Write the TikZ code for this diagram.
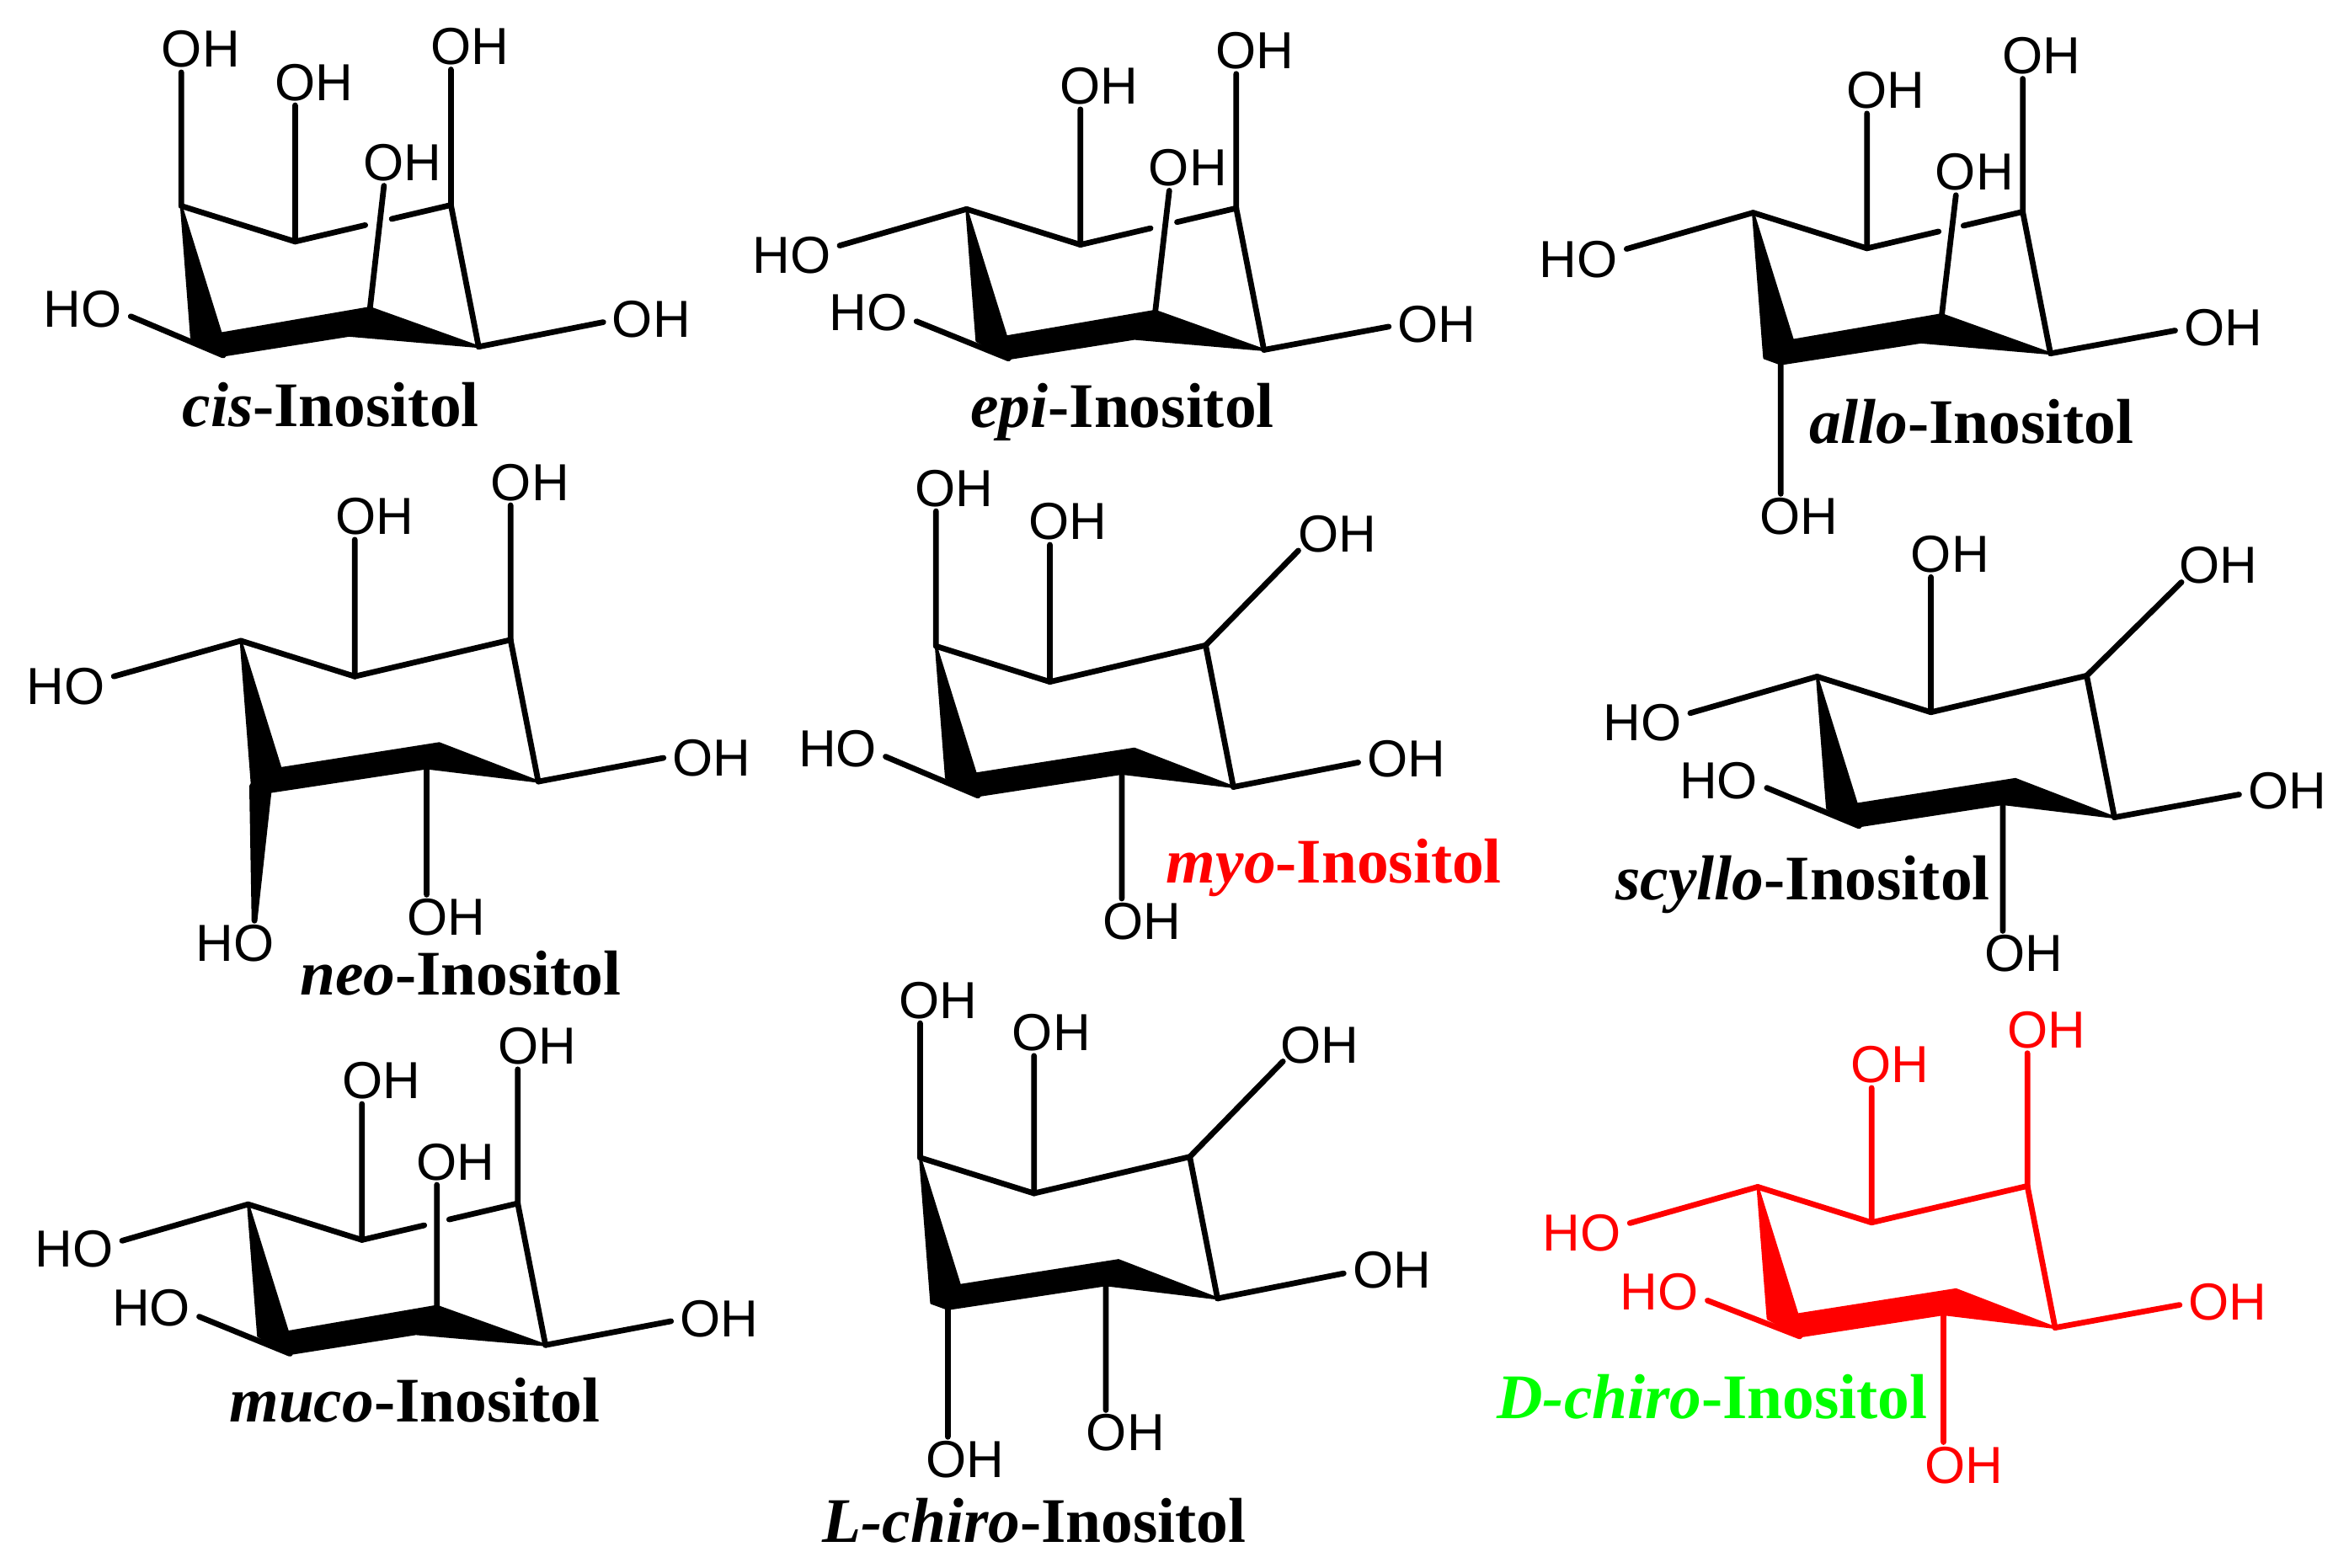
\documentclass[tikz,border=0pt]{standalone}
\usepackage{fontspec}
\setmainfont{Liberation Serif}
\newfontfamily\atomfont{Liberation Sans}
\usetikzlibrary{calc}
\tikzset{
  bond/.style={line width=1.9pt,line cap=round,line join=round},
  band/.style={line width=.8pt,line join=round},
  far/.style={shorten >=-3pt},
  oh/.style={font=\atomfont\fontsize{17.4}{19}\selectfont,inner sep=0pt,inner xsep=1.5pt,outer sep=1.5pt},
  isomer/.style={font=\fontsize{21.2}{24}\selectfont\bfseries,anchor=base,inner sep=0pt}
}
\newcommand{\chair}[4]{
  \begin{scope}[shift={(#2)}]
    \coordinate (#1-a) at (0,0);
    \coordinate (#1-b) at (76,23.8);
    \coordinate (#1-c) at (180,-0.6);
    \coordinate (#1-d) at (198.5,94);
    \coordinate (#1-e) at ({126+6.4*#3},{68+.5*#3});
    \coordinate (#1-g) at ({112+12*#3},{86.5-1.5*#3});
    \coordinate (#1-h) at (26.5,85.2);
    \coordinate (#1-f) at ({28-9.5*#4},{99.8+1.2*#4});
    \coordinate (#1-k) at ({6.8+.7*#4},{88+9*#4});
    \draw[bond] (#1-a) -- (#1-b) (#1-c) -- (#1-d);
    \filldraw[band] (#1-a) -- (#1-k) -- (#1-f) -- (#1-g) -- (#1-d) -- (#1-e) -- (#1-h) -- cycle;
  \end{scope}
}

\begin{document}
\begin{tikzpicture}[x=0.5pt,y=-0.5pt]
    \useasboundingbox (0,0) rectangle (1568,1046.8);

    \chair{cis}{121,137.5}{0}{0}
    \draw[bond] (cis-b) -- ($(cis-b)!.45!(cis-c)$) ($(cis-b)!.62!(cis-c)$) -- (cis-c);
    \node[oh] (cis1) at (134,33) {OH};
    \node[oh] (cis2) at (209.5,55) {OH};
    \node[oh] (cis3) at (268.7,108.7) {OH};
    \node[oh] (cis4) at (313.4,31.1) {OH};
    \node[oh] (cis5) at (434.8,213.4) {OH};
    \node[oh] (cis6) at (55.2,206.7) {HO};
    \draw[bond] (cis-a) -- (cis-a |- cis1.south) (cis-b) -- (cis-b |- cis2.south)
    (cis-e) -- (cis3.231) (cis-c) -- (cis-c |- cis4.south)
    (cis-d) -- (cis5.183) (cis-f) -- (cis6.-8);
    \node[isomer] (cisname) at (220.8,285) {\textit{cis}-Inositol};

    \chair{epi}{645.2,139.6}{0}{0}
    \draw[bond] (epi-b) -- ($(epi-b)!.45!(epi-c)$) ($(epi-b)!.62!(epi-c)$) -- (epi-c);
    \node[oh] (epi1) at (528.4,170.2) {HO};
    \node[oh] (epi2) at (733.8,57.7) {OH};
    \node[oh] (epi3) at (792.9,112) {OH};
    \node[oh] (epi4) at (837.8,34) {OH};
    \node[oh] (epi5) at (959.1,216.4) {OH};
    \node[oh] (epi6) at (579.7,208.9) {HO};
    \draw[bond] (epi-a) -- (epi1.11) (epi-b) -- (epi-b |- epi2.south)
    (epi-e) -- (epi3.231) (epi-c) -- (epi-c |- epi4.south)
    (epi-d) -- (epi5.183) (epi-f) -- (epi6.-10);
    \node[isomer] (epiname) at (749.2,285.5) {\textit{epi}-Inositol};

    \chair{allo}{1170.2,142}{0}{1}
    \draw[bond] (allo-b) -- ($(allo-b)!.46!(allo-c)$) ($(allo-b)!.62!(allo-c)$) -- (allo-c);
    \node[oh] (allo1) at (1053.7,173) {HO};
    \node[oh] (allo2) at (1258.8,60.5) {OH};
    \node[oh] (allo3) at (1318,115) {OH};
    \node[oh] (allo4) at (1362.7,37.3) {OH};
    \node[oh] (allo5) at (1484,219) {OH};
    \node[oh] (allo6) at (1200.8,345) {OH};
    \draw[bond] (allo-a) -- (allo1.12) (allo-b) -- (allo-b |- allo2.south)
    (allo-e) -- (allo3.231) (allo-c) -- (allo-c |- allo4.south)
    (allo-d) -- (allo5.183) (allo-f) -- (allo-f |- allo6.north);
    \node[isomer] (alloname) at (1316,295.8) {\textit{allo}-Inositol};

    \chair{neo}{160.8,427.8}{1}{1}
    \draw[bond] (neo-b) -- (neo-c);
    \node[oh] (neo1) at (43.9,458.4) {HO};
    \node[oh] (neo2) at (250,345) {OH};
    \node[oh] (neo3) at (353.8,322) {OH};
    \node[oh] (neo4) at (475,506) {OH};
    \node[oh] (neo5) at (157,630) {HO};
    \node[oh] (neo6) at (298,612.6) {OH};
    \draw[bond] (neo-a) -- (neo1.12) (neo-b) -- (neo-b |- neo2.south)
    (neo-c) -- (neo-c |- neo3.south) (neo-d) -- (neo4.180)
    (neo-g) -- (neo-g |- neo6.north);
    \filldraw[bond] (neo-k) -- (neo-f) -- (neo5.50) -- cycle;
    \node[isomer] (neoname) at (307.5,664.5) {\textit{neo}-Inositol};

    \chair{myo}{624.8,431.4}{1}{0}
    \draw[bond] (myo-b) -- (myo-c);
    \node[oh] (myo1) at (636.9,326) {OH};
    \node[oh] (myo2) at (712.8,348.4) {OH};
    \node[oh] (myo3) at (892.5,356.6) {OH};
    \node[oh] (myo4) at (938.7,506.8) {OH};
    \node[oh] (myo5) at (762.3,615.2) {OH};
    \node[oh] (myo6) at (559.1,500.1) {HO};
    \draw[bond] (myo-a) -- (myo-a |- myo1.south) (myo-b) -- (myo-b |- myo2.south)
    (myo-d) -- (myo4.184) (myo-g) -- (myo-g |- myo5.north) (myo-f) -- (myo6.-9);
    \draw[bond,far] (myo-c) -- (myo3.207);
    \node[isomer,text=red] (myoname) at (890.5,589.7) {\textit{myo}-Inositol};

    \chair{scyllo}{1212.9,451.7}{1}{0}
    \draw[bond] (scyllo-b) -- (scyllo-c);
    \node[oh] (scyllo1) at (1096.2,482.3) {HO};
    \node[oh] (scyllo2) at (1301.7,370) {OH};
    \node[oh] (scyllo3) at (1480.7,377.6) {OH};
    \node[oh] (scyllo4) at (1526.7,528.2) {OH};
    \node[oh] (scyllo5) at (1350.7,636.8) {OH};
    \node[oh] (scyllo6) at (1147.3,521.5) {HO};
    \draw[bond] (scyllo-a) -- (scyllo1.11) (scyllo-b) -- (scyllo-b |- scyllo2.south)
    (scyllo-d) -- (scyllo4.184) (scyllo-g) -- (scyllo-g |- scyllo5.north)
    (scyllo-f) -- (scyllo6.-8);
    \draw[bond,far] (scyllo-c) -- (scyllo3.208);
    \node[isomer] (scylloname) at (1203.5,600.8) {\textit{scyllo}-Inositol};

    \chair{muco}{165.6,804}{0}{0}
    \draw[bond] (muco-b) -- ($(muco-b)!.40!(muco-c)$) ($(muco-b)!.56!(muco-c)$) -- (muco-c);
    \node[oh] (muco1) at (49.4,834) {HO};
    \node[oh] (muco2) at (254.7,721.7) {OH};
    \node[oh] (muco3) at (304,775.7) {OH};
    \node[oh] (muco4) at (358.6,698.6) {OH};
    \node[oh] (muco5) at (480,880.4) {OH};
    \node[oh] (muco6) at (100.9,873.4) {HO};
    \draw[bond] (muco-a) -- (muco1.10) (muco-b) -- (muco-b |- muco2.south)
    (muco-e) -- (muco-e |- muco3.south) (muco-c) -- (muco-c |- muco4.south)
    (muco-d) -- (muco5.183) (muco-f) -- (muco6.-10);
    \node[isomer] (muconame) at (276.8,949.5) {\textit{muco}-Inositol};

    \chair{lchiro}{614.2,772.9}{1}{1}
    \draw[bond] (lchiro-b) -- (lchiro-c);
    \node[oh] (lchiro1) at (626.1,667.8) {OH};
    \node[oh] (lchiro2) at (701.8,689.6) {OH};
    \node[oh] (lchiro3) at (881,697.6) {OH};
    \node[oh] (lchiro4) at (929,847.9) {OH};
    \node[oh] (lchiro5) at (751.3,956.7) {OH};
    \node[oh] (lchiro6) at (644,974.6) {OH};
    \draw[bond] (lchiro-a) -- (lchiro-a |- lchiro1.south) (lchiro-b) -- (lchiro-b |- lchiro2.south)
    (lchiro-d) -- (lchiro4.184) (lchiro-g) -- (lchiro-g |- lchiro5.north)
    (lchiro-f) -- (lchiro-f |- lchiro6.north);
    \draw[bond,far] (lchiro-c) -- (lchiro3.208);
    \node[isomer] (lchironame) at (690.5,1029.4) {\textit{L-chiro}-Inositol};

    \begin{scope}[red]
    \chair{dchiro}{1173.3,792.4}{1}{0}
    \draw[bond] (dchiro-b) -- (dchiro-c);
    \node[oh] (dchiro1) at (1055.9,823.4) {HO};
    \node[oh] (dchiro2) at (1261.6,711) {OH};
    \node[oh] (dchiro3) at (1365.9,687.8) {OH};
    \node[oh] (dchiro4) at (1487,869.5) {OH};
    \node[oh] (dchiro5) at (1311.1,978.1) {OH};
    \node[oh] (dchiro6) at (1107.7,862.6) {HO};
    \draw[bond] (dchiro-a) -- (dchiro1.12) (dchiro-b) -- (dchiro-b |- dchiro2.south)
    (dchiro-c) -- (dchiro-c |- dchiro3.south) (dchiro-d) -- (dchiro4.183)
    (dchiro-g) -- (dchiro-g |- dchiro5.north) (dchiro-f) -- (dchiro6.-10);
    \end{scope}
    \node[isomer,text=green] (dchironame) at (1143,947.3) {\textit{D-chiro}-Inositol};
\end{tikzpicture}
\end{document}
